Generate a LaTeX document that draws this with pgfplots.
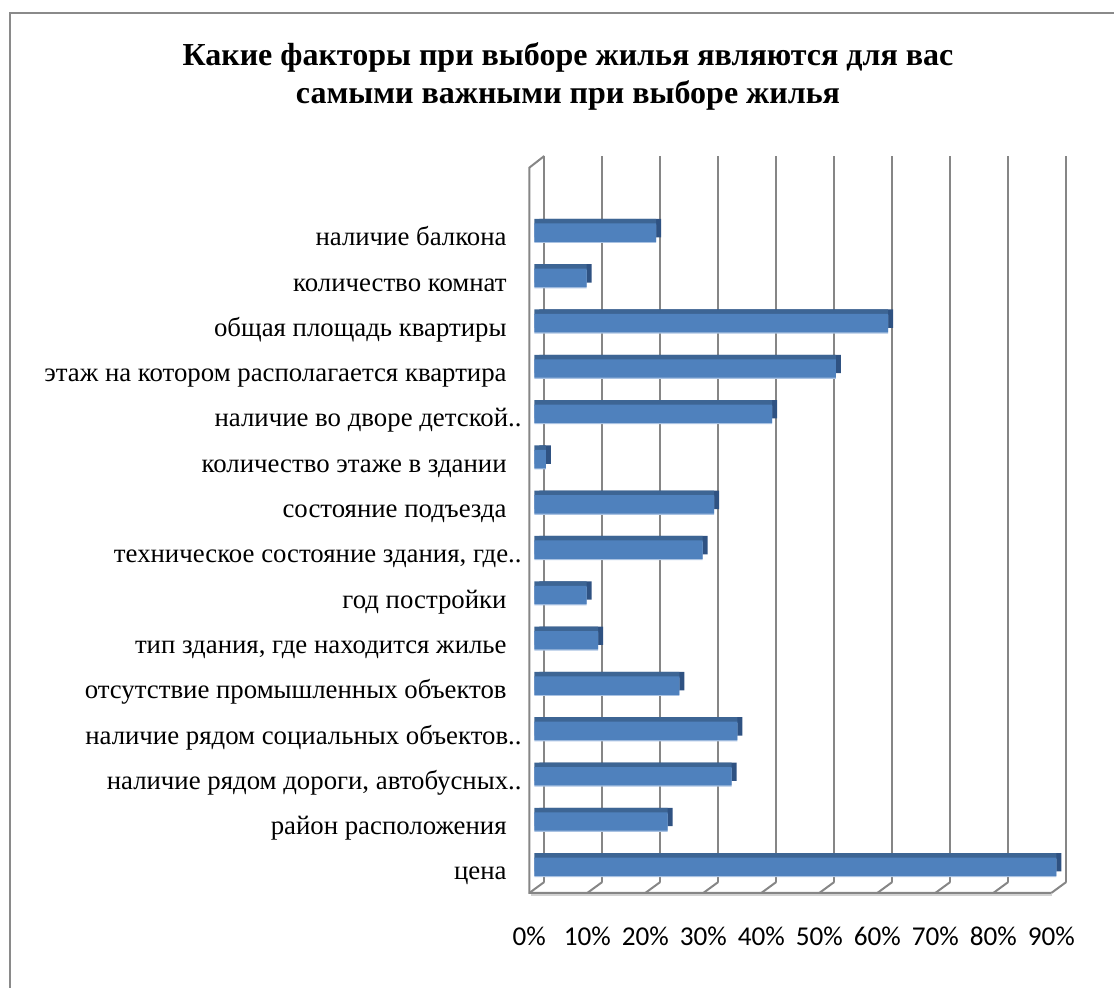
\documentclass[border=0pt]{standalone}
\usepackage{pgfplots}
\pgfplotsset{compat=1.18}
\usepackage{pgfplotstable}
\usepackage{fontspec}
\setmainfont{Liberation Serif}
\newfontfamily\calibri{Carlito}
\definecolor{barfront}{HTML}{4F81BD}
\definecolor{bartop}{HTML}{3D6594}
\definecolor{barside}{HTML}{2F5282}
\definecolor{barlow}{HTML}{A9C2E2}
\definecolor{gridc}{HTML}{868686}
\definecolor{framec}{HTML}{8A8A8A}
\newcommand\trsp{\hspace*{7.5bp}}

\pgfplotstableread{
idx val
0 90
1 23
2 34
3 35
4 25
5 11
6 9
7 29
8 31
9 2
10 41
11 52
12 61
13 9
14 21
}\datatable

\pgfplotstableread{
x y
1.724 -0.3355
1.724 15.691
nan nan
11.724 -0.3355
11.724 15.691
nan nan
21.724 -0.3355
21.724 15.691
nan nan
31.724 -0.3355
31.724 15.691
nan nan
41.724 -0.3355
41.724 15.691
nan nan
51.724 -0.3355
51.724 15.691
nan nan
61.724 -0.3355
61.724 15.691
nan nan
71.724 -0.3355
71.724 15.691
nan nan
81.724 -0.3355
81.724 15.691
nan nan
91.724 -0.3355
91.724 15.691
}\backgrid

\pgfplotstableread{
x y
-0.862 -0.5779
1.724 -0.3355
nan nan
9.138 -0.5779
11.724 -0.3355
nan nan
19.138 -0.5779
21.724 -0.3355
nan nan
29.138 -0.5779
31.724 -0.3355
nan nan
39.138 -0.5779
41.724 -0.3355
nan nan
49.138 -0.5779
51.724 -0.3355
nan nan
59.138 -0.5779
61.724 -0.3355
nan nan
69.138 -0.5779
71.724 -0.3355
nan nan
79.138 -0.5779
81.724 -0.3355
nan nan
89.138 -0.5779
91.724 -0.3355
}\floorlines

\pgfplotstableread{
x y
89.138 -0.5779
-0.862 -0.5779
-0.862 15.433
1.724 15.691
}\leftwall

\begin{document}
\begin{tikzpicture}
\useasboundingbox (0,0) rectangle (557bp,494bp);
\draw[framec, line width=1.2bp] (5bp,-20bp) rectangle (600bp,487.5bp);
\node[anchor=base, font=\fontsize{16bp}{19bp}\selectfont\bfseries, inner sep=0] at (284bp,461bp) {Какие факторы при выборе жилья являются для вас};
\node[anchor=base, font=\fontsize{16bp}{19bp}\selectfont\bfseries, inner sep=0] at (284bp,442bp) {самыми важными при выборе жилья};
\begin{axis}[
  at={(264.65bp,44.745bp)}, anchor=south west,
  scale only axis, width=272.2bp, height=373.725bp,
  xmin=-0.862, xmax=93, ymin=-0.7, ymax=15.8,
  clip=false,
  axis line style={draw=none},
  tick style={draw=none}, major tick length=0pt,
  xtick={0,10,...,90},
  xticklabels={0\%,10\%,20\%,30\%,40\%,50\%,60\%,70\%,80\%,90\%},
  xticklabel style={font=\calibri\fontsize{13.6bp}{15bp}\selectfont, anchor=center, inner sep=0pt, xshift=-2.5bp, yshift=-19.1bp},
  ytick={0,...,14},
  yticklabels={{цена\trsp},{район расположения\trsp},{наличие рядом дороги, автобусных..},{наличие рядом социальных объектов..},{отсутствие промышленных объектов\trsp},{тип здания, где находится жилье\trsp},{год постройки\trsp},{техническое состояние здания, где..},{состояние подъезда\trsp},{количество этаже в здании\trsp},{наличие во дворе детской..},{этаж на котором располагается квартира\trsp},{общая площадь квартиры\trsp},{количество комнат\trsp},{наличие балкона\trsp}},
  yticklabel style={font=\fontsize{13.4bp}{15bp}\selectfont, anchor=base east, inner sep=0pt, xshift=-3.65bp, yshift=-6.6bp},
]
\addplot[gridc, line width=1bp, unbounded coords=jump, forget plot] table[x=x,y=y] {\backgrid};
\addplot[gridc, line width=1bp, unbounded coords=jump, forget plot] table[x=x,y=y] {\floorlines};
\addplot[gray!35, line width=1.2bp, forget plot] coordinates {(-0.5,-0.62) (89.3,-0.62)};
\addplot[gridc, line width=1bp, forget plot] table[x=x,y=y] {\leftwall};
\addplot[xbar, bar shift=0pt, bar width=0.406, fill=barside, draw=none, xshift=2.5bp, yshift=2.25bp, forget plot] table[x=val,y=idx] {\datatable};
\addplot[xbar, bar shift=0pt, bar width=0.406, fill=bartop, draw=none, yshift=2.25bp, forget plot] table[x=val,y=idx] {\datatable};
\addplot[xbar, bar shift=0pt, bar width=0.406, fill=barlow, draw=none, yshift=-0.6bp, forget plot] table[x=val,y=idx] {\datatable};
\addplot[xbar, bar shift=0pt, bar width=0.406, fill=barfront, draw=none, forget plot] table[x=val,y=idx] {\datatable};
\end{axis}
\end{tikzpicture}
\end{document}
